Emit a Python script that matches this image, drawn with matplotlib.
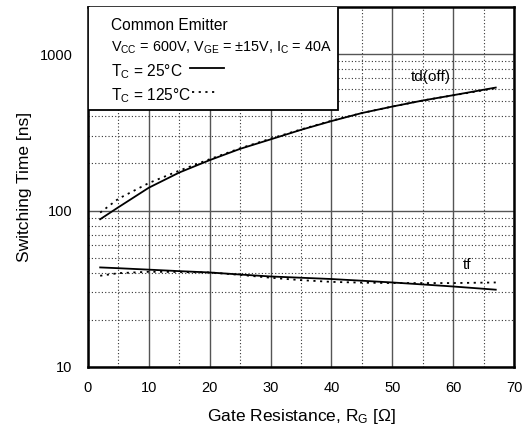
import matplotlib.pyplot as plt
from matplotlib.patches import Rectangle
from matplotlib.ticker import FixedLocator, NullFormatter

plt.rcParams['font.family'] = ['Liberation Sans', 'DejaVu Sans']
plt.rcParams['mathtext.fontset'] = 'custom'
plt.rcParams['mathtext.rm'] = 'Liberation Sans'
plt.rcParams['mathtext.it'] = 'Liberation Sans'

# === Data ===
rg = [2, 5, 10, 15, 20, 25, 30, 35, 40, 45, 50, 55, 60, 67]

td_off_25 = [88, 105, 140, 175, 210, 248, 285, 328, 373, 420, 462, 505, 546, 611]
td_off_125 = [97, 119, 150, 180, 213, 250, 288, 330, 375, 420, 462, 505, 545, 605]

tf_25 = [43.3, 42.8, 41.9, 41.0, 40.2, 39.0, 37.9, 37.2, 36.5, 35.6, 34.7, 33.7, 32.7, 31.2]
tf_125 = [38.3, 39.8, 40.6, 40.5, 40.2, 38.8, 37.2, 35.9, 35.0, 34.6, 34.4, 34.4, 34.4, 34.7]

x_major = [0, 10, 20, 30, 40, 50, 60, 70]
x_minor = [5, 15, 25, 35, 45, 55, 65]

fig = plt.figure(figsize=(5.22, 4.32), dpi=100)
ax = fig.add_axes([88 / 522, 65 / 432, 426 / 522, 360 / 432])

dot = (0, (1.2, 2.5))
ax.plot(rg, td_off_25, color='black', lw=1.3, zorder=4)
ax.plot(rg, td_off_125, color='black', lw=1.3, ls=dot, zorder=4)
ax.plot(rg, tf_25, color='black', lw=1.3, zorder=4)
ax.plot(rg, tf_125, color='black', lw=1.3, ls=dot, zorder=4)

ax.set_yscale('log')
ax.set_xlim(0, 70)
ax.set_ylim(10, 2000)
ax.xaxis.set_major_locator(FixedLocator(x_major))
ax.xaxis.set_minor_locator(FixedLocator(x_minor))
ax.yaxis.set_major_locator(FixedLocator([10, 100, 1000]))
ax.yaxis.set_minor_formatter(NullFormatter())
ax.set_yticklabels(['10', '100', '1000'])

ax.grid(which='major', axis='both', color='#555555', lw=1.0, ls='-')
ax.grid(which='minor', axis='both', color='#333333', lw=0.8, ls=(0, (1, 2)))
ax.set_axisbelow(True)
ax.tick_params(which='both', length=0, labelsize=10.5)
ax.tick_params(axis='y', pad=11)
ax.tick_params(axis='x', pad=10)

for s in ax.spines.values():
    s.set_linewidth(1.8)

ax.set_xlabel('Gate Resistance, R$_\\mathregular{G}$ [Ω]', fontsize=12.5, labelpad=9)
ax.set_ylabel('Switching Time [ns]', fontsize=12.5, labelpad=6)

ax.text(56.4, 713, 'td(off)', fontsize=11, ha='center', va='center', zorder=5)
ax.text(62.3, 45, 'tf', fontsize=11, ha='center', va='center', zorder=5)

# legend box
ax.add_patch(Rectangle((0, 0.714), 0.587, 0.29, transform=ax.transAxes,
                       facecolor='white', edgecolor='black', lw=1.3, zorder=6))
tx = 0.054
ax.text(tx, 0.948, 'Common Emitter', transform=ax.transAxes, fontsize=11.2,
        va='center', zorder=7)
ax.text(tx, 0.886, 'V$_\\mathregular{CC}$ = 600V, V$_\\mathregular{GE}$ = ±15V, I$_\\mathregular{C}$ = 40A',
        transform=ax.transAxes, fontsize=10.4, va='center', zorder=7)
ax.text(tx, 0.82, 'T$_\\mathregular{C}$ = 25°C', transform=ax.transAxes, fontsize=11.2,
        va='center', zorder=7)
ax.text(tx, 0.754, 'T$_\\mathregular{C}$ = 125°C', transform=ax.transAxes, fontsize=11.2,
        va='center', zorder=7)
ax.plot([0.24, 0.32], [0.83, 0.83], transform=ax.transAxes, color='black', lw=1.3,
        zorder=7, clip_on=False)
ax.plot([0.245, 0.305], [0.765, 0.765], transform=ax.transAxes, color='black', lw=1.3,
        ls=dot, zorder=7, clip_on=False)

fig.savefig('out.png', dpi=100)
